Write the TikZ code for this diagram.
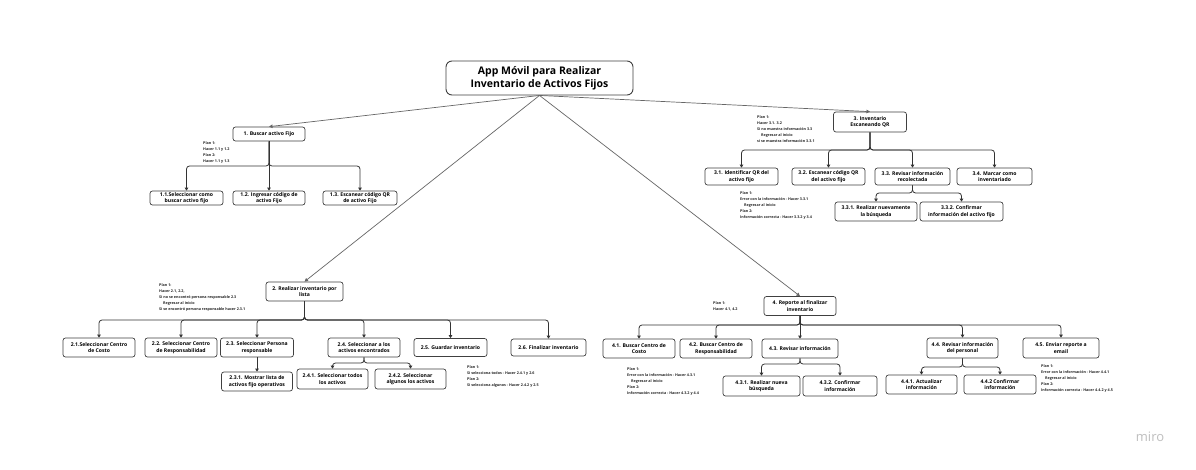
\documentclass[tikz,border=0pt]{standalone}
\usepackage{fontspec}
\setmainfont{Open Sans}
\usetikzlibrary{arrows.meta,positioning}

\begin{document}
\begin{tikzpicture}[
    x=1pt, y=-1pt,
    box/.style={rectangle, rounded corners=2.5pt, draw=black!75, line width=0.7pt, fill=white, align=center, inner sep=0.5pt, font=\bfseries\fontsize{5.1}{6.6}\selectfont},
    sz/.style 2 args={minimum width=#1pt, minimum height=#2pt},
    rootbox/.style={rectangle, rounded corners=6pt, draw=black!75, line width=0.9pt, fill=white, align=center, inner sep=1pt, font=\bfseries\fontsize{10.5}{13.5}\selectfont},
    plan/.style={anchor=north west, align=left, inner sep=0pt, text=black!85, font=\bfseries\fontsize{3.7}{6.2}\selectfont},
    link/.style={draw=black!60, line width=0.7pt, -{Triangle[length=3.5pt,width=3.5pt]}},
    tree/.style={draw=black!80, line width=0.8pt, rounded corners=3pt, -{Triangle[length=3pt,width=3.5pt]}}
]
    \fill[white] (0,0) rectangle (1196,470);
    \useasboundingbox (0,0) rectangle (1196,470);

    % Root
    \node[rootbox, sz={187}{34}] (root) at (539.5,78) {App Móvil para Realizar\\Inventario de Activos Fijos};

    % 1. Buscar activo fijo
    \node[box, sz={72}{14}] (n1) at (269,134) {1. Buscar activo Fijo};
    \node[box, sz={73}{14}] (n11) at (186.5,198) {1.1.Seleccionar como\\buscar activo fijo};
    \node[box, sz={72}{14}] (n12) at (269,198) {1.2. Ingresar código de\\activo Fijo};
    \node[box, sz={74}{14}] (n13) at (360,198) {1.3. Escanear código QR\\de activo Fijo};
    \node[plan] (plan1) at (203,141) {Plan 1:\\Hacer 1.1 y 1.2\\Plan 2:\\Hacer 1.1 y 1.3};

    % 3. Inventario escaneando QR
    \node[box, sz={73}{20}] (n3) at (870,122) {3. Inventario\\Escaneando QR};
    \node[box, sz={73}{17}] (n31) at (741.5,176.5) {3.1. Identificar QR del\\activo fijo};
    \node[box, sz={73}{17}] (n32) at (828.5,176.5) {3.2. Escanear código QR\\del activo fijo};
    \node[box, sz={75}{17}] (n33) at (912.5,176.5) {3.3. Revisar información\\recolectada};
    \node[box, sz={75}{17}] (n34) at (994.5,176.5) {3.4. Marcar como\\inventariado};
    \node[box, sz={82}{19}] (n331) at (876,211.5) {3.3.1. Realizar nuevamente\\la búsqueda};
    \node[box, sz={83}{19}] (n332) at (961.5,211.5) {3.3.2. Confirmar\\información del activo fijo};
    \node[plan] (plan3) at (757,115) {Plan 1:\\Hacer 3.1. 3.2\\Si no muestra información 3.3\\\hspace{4pt}Regresar al inicio\\si se muestra información 3.3.1};
    \node[plan] (plan33) at (740,191) {Plan 1:\\Error con la información - Hacer 3.3.1\\\hspace{4pt}Regresar al inicio\\Plan 2:\\Información correcta - Hacer 3.3.2 y 3.4};

    % 2. Realizar inventario por lista
    \node[box, sz={77}{19}] (n2) at (304.5,291.5) {2. Realizar inventario por\\lista};
    \node[box, sz={72}{19}] (n21) at (99,347.5) {2.1.Seleccionar Centro\\de Costo};
    \node[box, sz={72}{19}] (n22) at (181,347.5) {2.2. Seleccionar Centro\\de Responsabilidad};
    \node[box, sz={73}{19}] (n23) at (257,347.5) {2.3. Seleccionar Persona\\responsable};
    \node[box, sz={72}{19}] (n24) at (364,347.5) {2.4. Seleccionar a los\\activos encontrados};
    \node[box, sz={73}{18}] (n25) at (450.5,347.5) {2.5. Guardar inventario};
    \node[box, sz={75}{17}] (n26) at (548.5,347.5) {2.6. Finalizar inventario};
    \node[box, sz={71}{19}] (n231) at (257,381.5) {2.3.1. Mostrar lista de\\activos fijo operativos};
    \node[box, sz={71}{20}] (n241) at (332.5,379) {2.4.1. Seleccionar todos\\los activos};
    \node[box, sz={71}{20}] (n242) at (410.5,379) {2.4.2. Seleccionar\\algunos los activos};
    \node[plan] (plan2) at (159,283) {Plan 1:\\Hacer 2.1, 2.2,\\Si no se encontró persona responsable 2.3\\\hspace{4pt}Regresar al inicio\\Si se encontró persona responsable hacer 2.3.1};
    \node[plan] (plan24) at (467,365) {Plan 1:\\Si selecciona todos - Hacer 2.4.1 y 2.6\\Plan 2:\\Si selecciona algunos - Hacer 2.4.2 y 2.5};

    % 4. Reporte al finalizar inventario
    \node[box, sz={72}{19}] (n4) at (800,306) {4. Reporte al finalizar\\inventario};
    \node[box, sz={72}{19}] (n41) at (639,348.5) {4.1. Buscar Centro de\\Costo};
    \node[box, sz={72}{19}] (n42) at (716,348.5) {4.2. Buscar Centro de\\Responsabilidad};
    \node[box, sz={76}{19}] (n43) at (800,348.5) {4.3. Revisar información};
    \node[box, sz={71}{20}] (n44) at (962.5,348) {4.4. Revisar información\\del personal};
    \node[box, sz={76}{20}] (n45) at (1061,348) {4.5. Enviar reporte a\\email};
    \node[box, sz={77}{20}] (n431) at (761.5,386) {4.3.1. Realizar nueva\\búsqueda};
    \node[box, sz={74}{20}] (n432) at (840,386) {4.3.2. Confirmar\\información};
    \node[box, sz={71}{19}] (n441) at (921.5,384.5) {4.4.1. Actualizar\\información};
    \node[box, sz={72}{19}] (n442) at (1000,384.5) {4.4.2 Confirmar\\información};
    \node[plan] (plan4) at (713,301) {Plan 1:\\Hacer 4.1, 4.2};
    \node[plan] (plan43) at (627,367) {Plan 1:\\Error con la información - Hacer 4.3.1\\\hspace{4pt}Regresar al inicio\\Plan 2:\\Información correcta - Hacer 4.3.2 y 4.4};
    \node[plan] (plan45) at (1041,364) {Plan 1:\\Error con la información - Hacer 4.4.1\\\hspace{4pt}Regresar al inicio\\Plan 2:\\Información correcta - Hacer 4.4.2 y 4.5};

    % Watermark
    \node[text=black!25, font=\fontsize{13}{13}\selectfont] (miro) at (1150,437) {miro};

    % Bus levels
    \coordinate (b1) at (0,166);
    \coordinate (b3) at (0,150);
    \coordinate (b33) at (0,193);
    \coordinate (b2) at (0,320);
    \coordinate (b24) at (0,363);
    \coordinate (b4) at (0,325);
    \coordinate (b43) at (0,364);
    \coordinate (b44) at (0,367);

    % Arrows from root
    \draw[link] (root.south) -- (n1.north);
    \draw[link] (root.south) -- (n2.north);
    \draw[link] (root.south) -- (n3.north);
    \draw[link] (root.south) -- (n4.north);

    % Tree arrows
    \draw[tree] (n1.south) -- (n1.south |- b1) -| (n11.north);
    \draw[tree] (n1.south) -- (n12.north);
    \draw[tree] (n1.south) -- (n1.south |- b1) -| (n13.north);

    \draw[tree] (n3.south) -- (n3.south |- b3) -| (n31.north);
    \draw[tree] (n3.south) -- (n3.south |- b3) -| (n32.north);
    \draw[tree] (n3.south) -- (n3.south |- b3) -| (n33.north);
    \draw[tree] (n3.south) -- (n3.south |- b3) -| (n34.north);
    \draw[tree] (n33.south) -- (n33.south |- b33) -| (n331.north);
    \draw[tree] (n33.south) -- (n33.south |- b33) -| (n332.north);

    \draw[tree] (n2.south) -- (n2.south |- b2) -| (n21.north);
    \draw[tree] (n2.south) -- (n2.south |- b2) -| (n22.north);
    \draw[tree] (n2.south) -- (n2.south |- b2) -| (n23.north);
    \draw[tree] (n2.south) -- (n2.south |- b2) -| (n24.north);
    \draw[tree] (n2.south) -- (n2.south |- b2) -| (n25.north);
    \draw[tree] (n2.south) -- (n2.south |- b2) -| (n26.north);
    \draw[tree] (n23.south) -- (n231.north);
    \draw[tree] (n24.south) -- (n24.south |- b24) -| (n241.north);
    \draw[tree] (n24.south) -- (n24.south |- b24) -| (n242.north);

    \draw[tree] (n4.south) -- (n4.south |- b4) -| (n41.north);
    \draw[tree] (n4.south) -- (n4.south |- b4) -| (n42.north);
    \draw[tree] (n4.south) -- (n43.north);
    \draw[tree] (n4.south) -- (n4.south |- b4) -| (n44.north);
    \draw[tree] (n4.south) -- (n4.south |- b4) -| (n45.north);
    \draw[tree] (n43.south) -- (n43.south |- b43) -| (n431.north);
    \draw[tree] (n43.south) -- (n43.south |- b43) -| (n432.north);
    \draw[tree] (n44.south) -- (n44.south |- b44) -| (n441.north);
    \draw[tree] (n44.south) -- (n44.south |- b44) -| (n442.north);
\end{tikzpicture}
\end{document}
